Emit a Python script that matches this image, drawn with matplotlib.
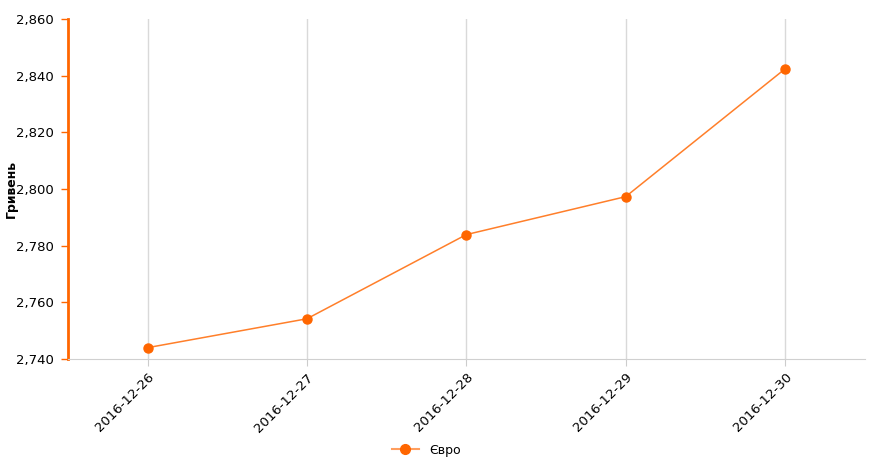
import matplotlib.pyplot as plt
from matplotlib.ticker import FuncFormatter
from matplotlib.lines import Line2D

dates = ['2016-12-26', '2016-12-27', '2016-12-28', '2016-12-29', '2016-12-30']
euro = [2744.0, 2754.2, 2783.9, 2797.3, 2842.4]
series_name = 'Євро'

fig = plt.figure(figsize=(8.7, 4.74), dpi=100)
ax = fig.add_axes([0.078, 0.2426, 0.916, 0.7174])

x = list(range(len(dates)))
ax.plot(x, euro, color='#ff7f2a', lw=1.1, zorder=3)
ax.plot(x, euro, 'o', color='#ff6600', ms=6.5, zorder=4)

ax.set_xlim(-0.5, len(dates) - 0.5)
ax.set_ylim(2740, 2860)
ax.set_yticks(range(2740, 2861, 20))
ax.yaxis.set_major_formatter(FuncFormatter(lambda v, p: f'{int(v):,}'))
ax.set_xticks(x)
ax.set_xticklabels(dates, rotation=45, ha='right', rotation_mode='anchor', fontsize=9.5)
ax.tick_params(axis='y', colors='#ff6600', length=5, width=1, labelsize=9.5, labelcolor='black', pad=5)
ax.tick_params(axis='x', length=5, color='#cccccc', labelcolor='black')

ax.grid(axis='x', color='#d9d9d9', lw=1)
ax.set_axisbelow(True)
for s in ['top', 'right']:
    ax.spines[s].set_visible(False)
ax.spines['left'].set_color('#ff6600')
ax.spines['left'].set_linewidth(2)
ax.spines['bottom'].set_color('#d0d0d0')

ax.set_ylabel('Гривень', fontweight='bold', fontsize=9)
ax.yaxis.set_label_coords(-0.063, 0.5)

handle = Line2D([], [], color='#ff9e5e', lw=1.5, marker='o', ms=7, markerfacecolor='#ff6600', markeredgecolor='#ff6600')
fig.legend([handle], [series_name], loc='center', bbox_to_anchor=(0.49, 0.05), frameon=False, fontsize=9, handlelength=2.2)

fig.savefig('out.png', dpi=100)
